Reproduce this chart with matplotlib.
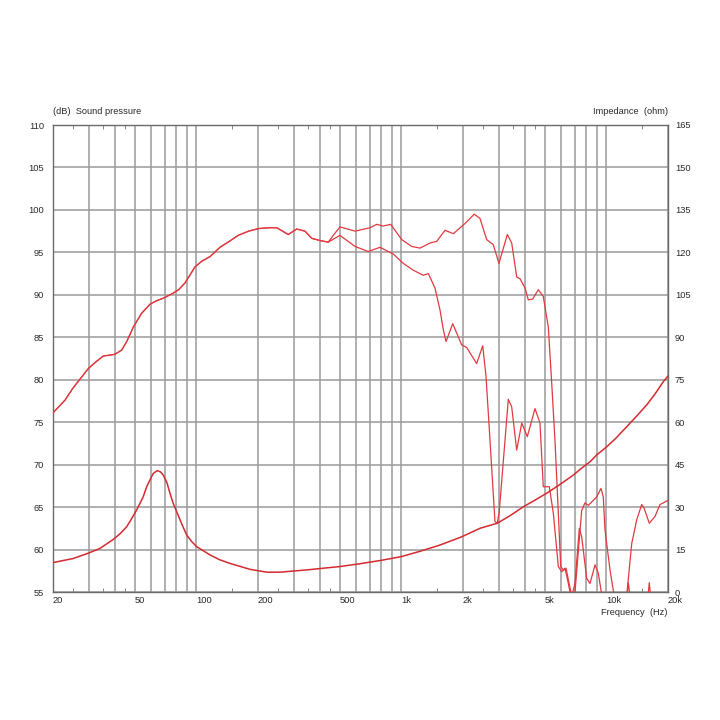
import numpy as np
import matplotlib
matplotlib.use("Agg")
import matplotlib.pyplot as plt

plt.rcParams['font.family'] = ['Liberation Sans', 'DejaVu Sans']

# shared low part of both SPL curves (Hz, dB)
f_low = [20, 22.9, 25, 29.7, 32, 35.2, 38, 40.1, 43.3, 46, 49.3, 54, 59.5, 64, 69, 73,
         77.2, 82, 88.1, 93, 98.6, 107, 116.7, 130.5, 145, 160, 180, 201, 225, 247, 281,
         309, 339, 366, 401, 440]
spl_low = [76.1, 77.6, 79.0, 81.3, 82.0, 82.8, 82.9, 83.0, 83.5, 84.6, 86.2, 87.8, 88.9,
           89.3, 89.6, 89.9, 90.2, 90.6, 91.4, 92.3, 93.3, 94.0, 94.5, 95.6, 96.3, 97.0,
           97.5, 97.8, 97.9, 97.9, 97.1, 97.75, 97.5, 96.65, 96.4, 96.2]

# on-axis SPL above 440 Hz
f_on = [466, 502, 595, 704, 759, 817, 888, 1005, 1124, 1234, 1381, 1489, 1634, 1794,
        2045, 2270, 2420, 2610, 2810, 2996, 3290, 3456, 3656, 3793, 4014, 4164, 4375,
        4658, 4928, 5214, 5417, 5621, 5835, 5994, 6173, 6290, 6530, 6781, 6902, 7036,
        7586, 7874, 8172, 8490, 8980, 9426, 9668, 9856, 10426, 10820, 11500, 12338,
        13306, 14074, 14886, 15272, 16212, 17286, 18284, 19712, 20000]
spl_on = [97.0, 98.0, 97.5, 97.9, 98.3, 98.1, 98.3, 96.5, 95.7, 95.5, 96.1, 96.3, 97.6, 97.2,
          98.4, 99.5, 99.0, 96.5, 95.9, 93.7, 97.1, 96.1, 92.1, 91.9, 90.8, 89.4, 89.5,
          90.6, 89.8, 86.2, 79.6, 72.8, 64.3, 58.0, 57.6, 57.8, 56.0, 54.0, 53.0, 55.0,
          64.6, 65.5, 65.2, 65.6, 66.2, 67.2, 66.2, 62.3, 57.6, 55.2, 52.0, 52.5,
          60.7, 63.5, 65.3, 64.9, 63.1, 63.9, 65.3, 65.7, 65.8]

# off-axis SPL above 440 Hz
f_off = [502, 595, 690, 787, 914, 1023, 1144, 1280, 1355, 1460, 1545, 1603, 1653, 1782,
         1971, 2084, 2332, 2496, 2590, 2708, 2864, 2940, 3006, 3327, 3456, 3656, 3868,
         4119, 4490, 4748, 4928, 5272, 5515, 5835, 6062, 6362, 6781, 7036, 7386, 7586,
         8025, 8330, 8812, 9142, 9426, 9668, 12000, 12577, 12804, 13306, 15744, 16212,
         16658, 20000]
spl_off = [97.0, 95.7, 95.1, 95.6, 94.8, 93.7, 92.9, 92.3, 92.5, 90.8, 88.2, 85.9, 84.5, 86.6,
           84.1, 83.8, 81.9, 84.0, 80.4, 72.9, 63.3, 63.1, 64.5, 77.7, 76.8, 71.7, 74.9,
           73.3, 76.6, 74.9, 67.4, 67.4, 64.3, 58.0, 57.4, 57.8, 54.5, 56.0, 62.5, 61.5,
           56.6, 56.0, 58.2, 57.2, 55.2, 53.0, 52.0, 54.0, 56.1, 53.0, 53.0, 56.1,
           53.0, 52.0]

# impedance (Hz, ohm)
f_imp = [20, 25, 29.7, 33.9, 39.4, 42.5, 45.8, 48, 51.2, 55, 57.3, 60, 61.7, 64.5, 67, 69,
         72, 74.4, 77, 80.2, 85, 89.8, 95, 100.5, 116.7, 130, 146, 183, 221, 256, 297, 346,
         416, 502, 630, 800, 1000, 1250, 1545, 1971, 2420, 2940, 3400, 3938, 4500, 5120,
         5946, 6902, 7500, 8330, 9000, 10046, 11200, 12577, 14000, 15744, 17300, 18972,
         20000]
imp = [10.4, 11.8, 13.7, 15.4, 18.6, 20.6, 23.1, 25.5, 29.0, 33.5, 37.2, 40.2, 41.9, 42.9,
       42.4, 41.3, 38.5, 34.9, 31.5, 28.4, 24.0, 20.1, 17.8, 16.0, 13.1, 11.4, 10.1, 8.0,
       7.0, 7.0, 7.4, 7.8, 8.4, 9.0, 10.0, 11.2, 12.5, 14.5, 16.6, 19.5, 22.5, 24.3, 27.0,
       30.1, 32.5, 34.9, 38.0, 41.3, 43.5, 46.0, 48.5, 51.3, 54.5, 58.4, 62.0, 66.1, 70.0,
       74.3, 76.3]

grid_f = [20, 30, 40, 50, 60, 70, 80, 90, 100, 200, 300, 400, 500, 600, 700, 800, 900,
          1000, 2000, 3000, 4000, 5000, 6000, 7000, 8000, 9000, 10000, 20000]
labelled = {20: '20', 50: '50', 100: '100', 200: '200', 500: '500', 1000: '1k',
            2000: '2k', 5000: '5k', 10000: '10k', 20000: '20k'}
minor_f = [25, 35, 45, 150, 250, 350, 450, 1500, 2500, 3500, 4500, 15000]

red = '#e03a40'
txt = '#2a2a2a'

fig = plt.figure(figsize=(7.2, 7.2), dpi=100)
ax = fig.add_axes([53 / 720, 128 / 720, 615 / 720, 467 / 720])
ax.set_xscale('log')
ax.set_xlim(20, 20000)
ax.set_ylim(55, 110)

ax.set_xticks(grid_f)
ax.set_xticklabels([labelled.get(v, '') for v in grid_f], ha='left')
ax.set_xticks(minor_f, minor=True)
ax.set_yticks(np.arange(55, 111, 5))
ax.tick_params(axis='x', which='major', length=0, pad=3, labelsize=6.7, labelcolor=txt)
ax.tick_params(axis='x', which='minor', direction='in', length=3, top=True, bottom=True,
               color='#707070', labelbottom=False)
ax.tick_params(axis='y', length=0, pad=6.5, labelsize=6.7, labelcolor=txt)
ax.grid(True, which='major', color='#9a9a9a', linewidth=1.1)
for s in ax.spines.values():
    s.set_color('#6a6a6a')
    s.set_linewidth(1.0)

f_on_all = np.concatenate([f_low, f_on])
spl_on_all = np.concatenate([spl_low, spl_on])
f_off_all = np.concatenate([f_low, f_off])
spl_off_all = np.concatenate([spl_low, spl_off])
ax.plot(f_on_all, spl_on_all, color=red, linewidth=0.9, zorder=3,
        solid_joinstyle='round')
ax.plot(f_off_all, spl_off_all, color=red, linewidth=0.9, zorder=3,
        solid_joinstyle='round')

ax2 = ax.twinx()
ax2.set_ylim(0, 165)
ax2.set_yticks(np.arange(0, 166, 15))
ax2.tick_params(axis='y', length=0, pad=5, labelsize=6.7, labelcolor=txt)
for s in ax2.spines.values():
    s.set_visible(False)
ax2.plot(f_imp, imp, color='#d42a30', linewidth=1.1, solid_joinstyle='round')

fig.text(53 / 720, 1 - 114 / 720, '(dB)  Sound pressure', ha='left', va='baseline',
         fontsize=6.7, color=txt)
fig.text(668 / 720, 1 - 114 / 720, 'Impedance  (ohm)', ha='right', va='baseline',
         fontsize=6.7, color=txt)
fig.text(667 / 720, 1 - 615 / 720, 'Frequency  (Hz)', ha='right', va='baseline',
         fontsize=6.7, color=txt)

fig.savefig('out.png', dpi=100, facecolor='white')
